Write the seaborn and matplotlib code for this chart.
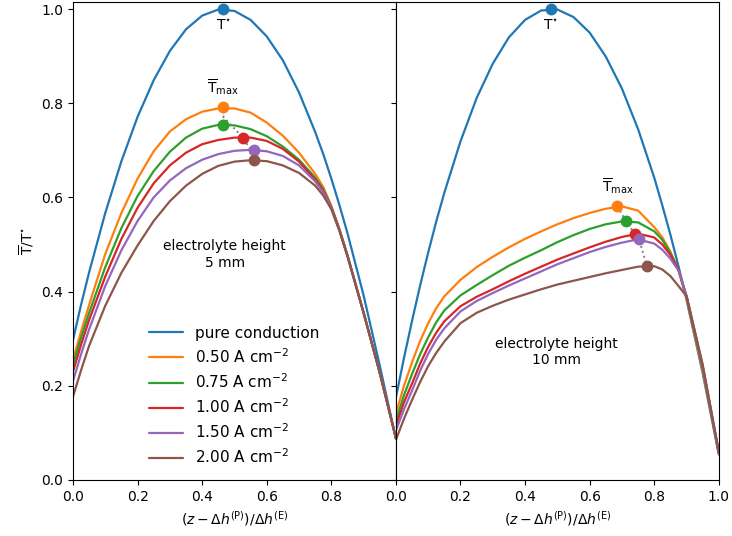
import matplotlib

matplotlib.use("Agg")
import matplotlib.pyplot as plt
import seaborn as sns

# sample positions along (z - dh_P) / dh_E
x_left = [0.00, 0.025, 0.05, 0.10, 0.15, 0.20, 0.25, 0.30, 0.35, 0.40, 0.45, 0.50,
          0.55, 0.60, 0.65, 0.70, 0.75, 0.775, 0.80, 0.825, 0.85, 0.90, 0.95, 1.00]
x_right = [0.00, 0.025, 0.05, 0.075, 0.10, 0.125, 0.15, 0.20, 0.25, 0.30, 0.35, 0.40,
           0.45, 0.50, 0.55, 0.60, 0.65, 0.70, 0.75, 0.80, 0.825, 0.85, 0.875, 0.90,
           0.95, 1.00]

labels = ["pure conduction", "0.50 A cm$^{-2}$", "0.75 A cm$^{-2}$",
          "1.00 A cm$^{-2}$", "1.50 A cm$^{-2}$", "2.00 A cm$^{-2}$"]
colors = ["#1f77b4", "#ff7f0e", "#2ca02c", "#d62728", "#9467bd", "#8c564b"]

# electrolyte height 5 mm
left_pure = [0.297, 0.372, 0.441, 0.567, 0.677, 0.771, 0.849, 0.911, 0.957, 0.986, 0.999,
             0.996, 0.977, 0.942, 0.891, 0.823, 0.739, 0.692, 0.640, 0.584, 0.524, 0.392,
             0.243, 0.087]
left_050 = [0.255, 0.315, 0.372, 0.480, 0.567, 0.640, 0.698, 0.740, 0.766, 0.782, 0.789,
            0.789, 0.780, 0.759, 0.731, 0.695, 0.650, 0.622, 0.582, 0.533, 0.478, 0.355,
            0.228, 0.089]
left_075 = [0.245, 0.302, 0.355, 0.452, 0.535, 0.603, 0.656, 0.697, 0.727, 0.746, 0.754,
            0.753, 0.745, 0.730, 0.708, 0.680, 0.642, 0.617, 0.580, 0.532, 0.477, 0.355,
            0.228, 0.089]
left_100 = [0.230, 0.287, 0.340, 0.432, 0.512, 0.578, 0.630, 0.668, 0.695, 0.713, 0.722,
            0.727, 0.727, 0.720, 0.703, 0.676, 0.638, 0.614, 0.579, 0.531, 0.476, 0.355,
            0.228, 0.089]
left_150 = [0.210, 0.267, 0.320, 0.412, 0.488, 0.550, 0.600, 0.636, 0.662, 0.680, 0.692,
            0.699, 0.701, 0.698, 0.688, 0.668, 0.634, 0.611, 0.578, 0.531, 0.476, 0.355,
            0.228, 0.089]
left_200 = [0.177, 0.233, 0.285, 0.370, 0.440, 0.498, 0.550, 0.592, 0.625, 0.650, 0.667,
            0.676, 0.679, 0.677, 0.668, 0.652, 0.625, 0.604, 0.575, 0.529, 0.475, 0.355,
            0.228, 0.089]

# electrolyte height 10 mm
right_pure = [0.175, 0.259, 0.338, 0.413, 0.483, 0.549, 0.610, 0.719, 0.811, 0.884, 0.940,
              0.977, 0.997, 0.999, 0.983, 0.950, 0.899, 0.831, 0.745, 0.642, 0.583, 0.521,
              0.454, 0.383, 0.227, 0.054]
right_050 = [0.140, 0.200, 0.250, 0.295, 0.333, 0.365, 0.390, 0.425, 0.452, 0.474, 0.494,
             0.512, 0.528, 0.543, 0.556, 0.567, 0.576, 0.581, 0.572, 0.537, 0.515, 0.485,
             0.445, 0.385, 0.232, 0.056]
right_075 = [0.125, 0.180, 0.225, 0.267, 0.303, 0.335, 0.360, 0.392, 0.414, 0.435, 0.455,
             0.472, 0.488, 0.505, 0.520, 0.533, 0.543, 0.549, 0.547, 0.528, 0.510, 0.482,
             0.447, 0.388, 0.236, 0.057]
right_100 = [0.115, 0.165, 0.205, 0.247, 0.283, 0.313, 0.337, 0.369, 0.389, 0.405, 0.422,
             0.438, 0.453, 0.468, 0.481, 0.494, 0.506, 0.516, 0.523, 0.515, 0.500, 0.478,
             0.447, 0.390, 0.240, 0.058]
right_150 = [0.105, 0.150, 0.190, 0.232, 0.268, 0.298, 0.322, 0.358, 0.380, 0.397, 0.413,
             0.428, 0.443, 0.458, 0.471, 0.484, 0.495, 0.504, 0.511, 0.502, 0.489, 0.470,
             0.445, 0.392, 0.243, 0.058]
right_200 = [0.085, 0.130, 0.170, 0.208, 0.242, 0.270, 0.294, 0.333, 0.355, 0.370, 0.383,
             0.394, 0.405, 0.415, 0.423, 0.431, 0.439, 0.446, 0.453, 0.454, 0.447, 0.433,
             0.412, 0.390, 0.245, 0.060]

# maxima (T* and T_max per current density)
left_peak_x = [0.466, 0.464, 0.464, 0.526, 0.560, 0.560]
left_peak_y = [1.000, 0.791, 0.754, 0.727, 0.701, 0.679]
right_peak_x = [0.480, 0.686, 0.712, 0.740, 0.753, 0.777]
right_peak_y = [1.000, 0.581, 0.550, 0.523, 0.511, 0.455]

sns.set_theme(style="ticks", context="notebook", rc={
    "axes.edgecolor": "black", "xtick.color": "black", "ytick.color": "black",
    "axes.labelcolor": "black", "text.color": "black", "font.size": 10,
    "axes.labelsize": 10, "xtick.labelsize": 10, "ytick.labelsize": 10,
    "legend.fontsize": 11, "lines.linewidth": 1.6, "axes.linewidth": 0.8,
    "xtick.major.width": 0.8, "ytick.major.width": 0.8,
    "xtick.major.size": 3.5, "ytick.major.size": 3.5, "mathtext.fontset": "dejavusans",
})
plt.rcParams["font.family"] = ["DejaVu Sans"]

fig, (ax1, ax2) = plt.subplots(1, 2, sharey=True, figsize=(7.32, 5.36), dpi=100)
fig.subplots_adjust(left=0.0997, right=0.982, top=0.9963, bottom=0.1045, wspace=0)

panels = [
    (ax1, x_left, [left_pure, left_050, left_075, left_100, left_150, left_200],
     left_peak_x, left_peak_y, "electrolyte height\n5 mm", (0.47, 0.479)),
    (ax2, x_right, [right_pure, right_050, right_075, right_100, right_150, right_200],
     right_peak_x, right_peak_y, "electrolyte height\n10 mm", (0.497, 0.272)),
]

for k, (ax, xs, series, px, py, note, note_xy) in enumerate(panels):
    for i, ys in enumerate(series):
        sns.lineplot(x=xs, y=ys, ax=ax, color=colors[i], sort=False,
                     label=labels[i] if k == 0 else None, legend=False)
    # dotted path through the T_max markers
    sns.lineplot(x=px[1:], y=py[1:], ax=ax, color="grey", linestyle=":",
                 sort=False, legend=False, lw=1.4)
    for i in range(len(px)):
        ax.plot(px[i], py[i], "o", color=colors[i], ms=7.5, zorder=5)
    ax.text(px[0], py[0] - 0.018, r"T$^{\star}$", ha="center", va="top")
    ax.text(px[1], py[1] + 0.022, r"$\overline{\mathrm{T}}_{\mathrm{max}}$",
            ha="center", va="bottom")
    ax.text(note_xy[0], note_xy[1], note, ha="center", va="center")
    ax.set_xlim(0, 1)
    ax.set_xlabel(r"$(z - \Delta h^{(\mathrm{P})})/\Delta h^{(\mathrm{E})}$")

ax1.set_ylim(0, 1.015)
ax1.set_yticks([0.0, 0.2, 0.4, 0.6, 0.8, 1.0])
ax1.set_xticks([0.0, 0.2, 0.4, 0.6, 0.8])
ax2.set_xticks([0.0, 0.2, 0.4, 0.6, 0.8, 1.0])
ax1.set_ylabel(r"$\overline{\mathrm{T}}/\mathrm{T}^{\star}$")
ax1.legend(loc="lower center", frameon=False, labelspacing=0.42, handlelength=2.2)

fig.savefig("out.png", dpi=100)
